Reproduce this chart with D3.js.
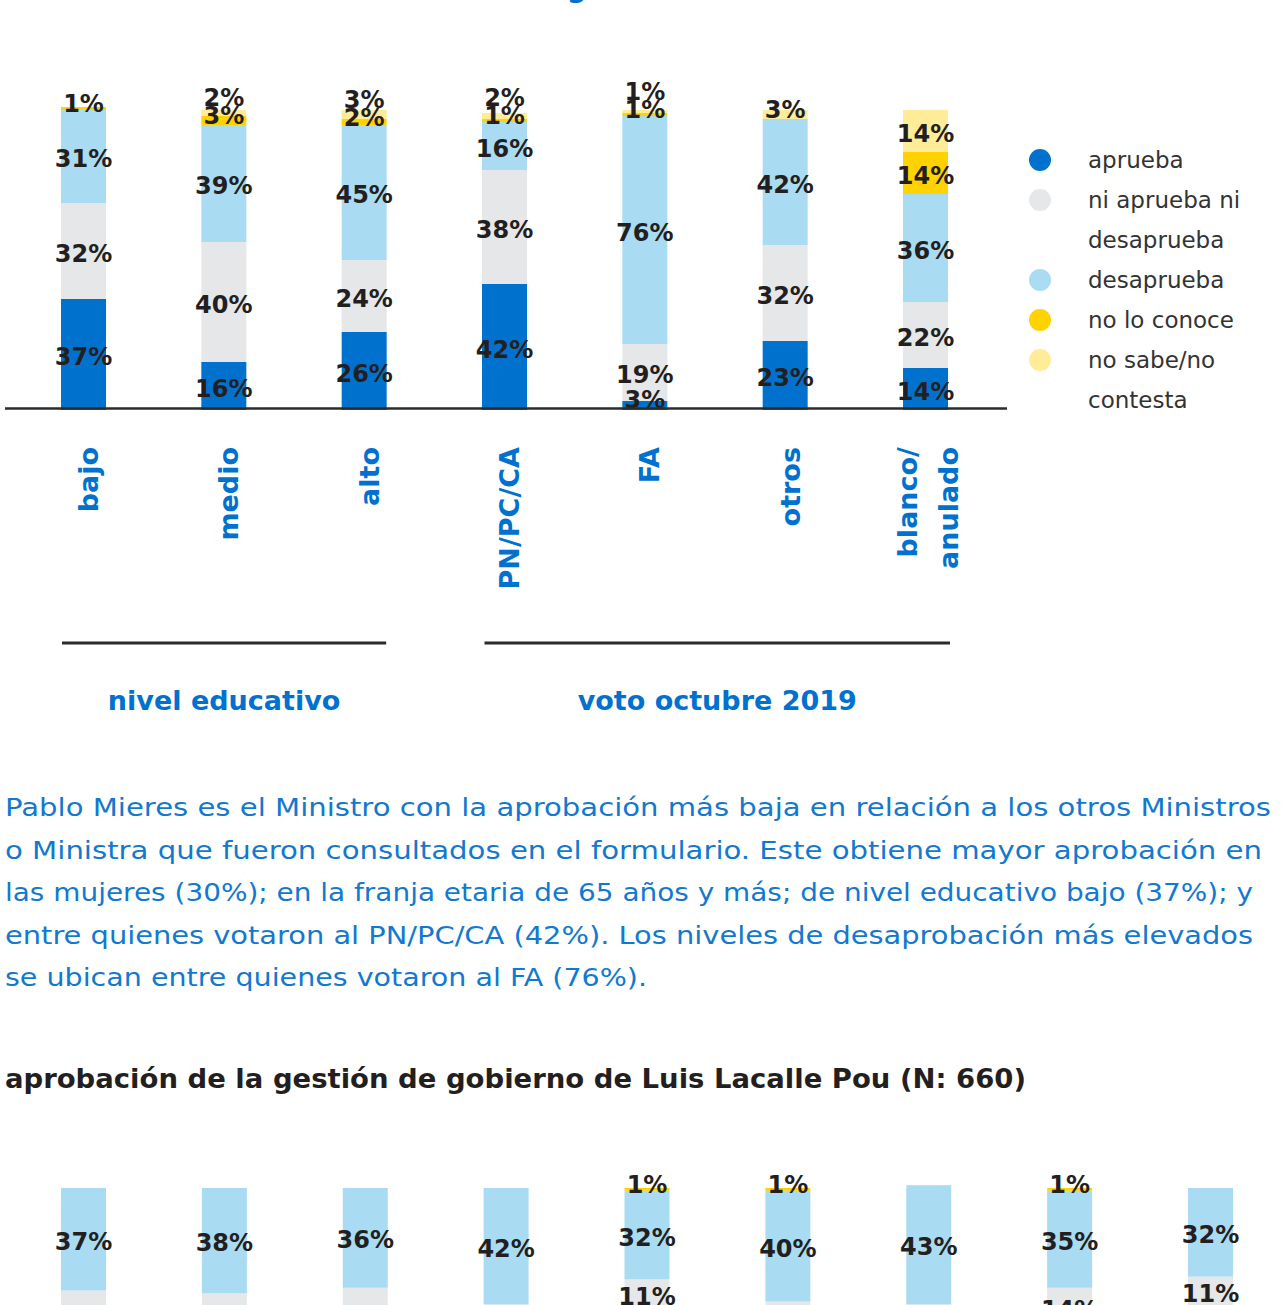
<!DOCTYPE html>
<html>
<head>
<meta charset="utf-8">
<script src="https://cdn.jsdelivr.net/npm/d3@7"></script>
<style>
  html, body { margin: 0; padding: 0; background: #fff; }
  svg { display: block; }
</style>
</head>
<body>
<svg id="chart" width="1284" height="1305"></svg>
<script>
// ---------- DATA (top chart: Pablo Mieres) ----------
const categories = ["bajo", "medio", "alto", "PN/PC/CA", "FA", "otros", "blanco/anulado"];
const categoryLabels = [["bajo"], ["medio"], ["alto"], ["PN/PC/CA"], ["FA"], ["otros"], ["blanco/", "anulado"]];
const aprueba     = [37, 16, 26, 42,  3, 23, 14];
const niNi        = [32, 40, 24, 38, 19, 32, 22];
const desaprueba  = [31, 39, 45, 16, 76, 42, 36];
const noConoce    = [ 1,  3,  2,  1,  1,  0, 14];
const noSabe      = [ 0,  2,  3,  2,  1,  3, 14];

const groups = [
  { name: "nivel educativo", from: "bajo", to: "alto" },
  { name: "voto octubre 2019", from: "PN/PC/CA", to: "blanco/anulado" }
];

const seriesKeys = ["aprueba", "ni", "desaprueba", "noConoce", "noSabe"];
const legendLabels = [["aprueba"], ["ni aprueba ni", "desaprueba"], ["desaprueba"], ["no lo conoce"], ["no sabe/no", "contesta"]];

// ---------- DATA (bottom chart: Luis Lacalle Pou) ----------
const categories2 = ["hombre", "mujer", "18 a 29", "30 a 44", "45 a 64", "65 y más", "bajo", "medio", "alto"];
const aprueba2    = [43, 44, 45, 42, 56, 44, 44, 50, 57];
const niNi2       = [20, 18, 19, 16, 11, 15, 14, 14, 11];
const desaprueba2 = [37, 38, 36, 42, 32, 40, 43, 35, 32];
const noConoce2   = [ 0,  0,  0,  0,  1,  1,  0,  1,  0];
const noSabe2     = [ 0,  0,  0,  0,  0,  0,  0,  0,  0];

const paragraphLines = [
  "Pablo Mieres es el Ministro con la aprobación más baja en relación a los otros Ministros",
  "o Ministra que fueron consultados en el formulario. Este obtiene mayor aprobación en",
  "las mujeres (30%); en la franja etaria de 65 años y más; de nivel educativo bajo (37%); y",
  "entre quienes votaron al PN/PC/CA (42%). Los niveles de desaprobación más elevados",
  "se ubican entre quienes votaron al FA (76%)."
];
const title2 = "aprobación de la gestión de gobierno de Luis Lacalle Pou (N: 660)";

// ---------- STYLE ----------
const colors = {
  aprueba: "#0072ce",
  ni: "#e6e7e8",
  desaprueba: "#a9dcf3",
  noConoce: "#ffd200",
  noSabe: "#ffec99"
};
const blue = "#0071ce";
const textBlue = "#1279cf";
const dark = "#231f20";
const labelFont = "'DejaVu Sans', sans-serif";

const svg = d3.select("#chart");
const color = d3.scaleOrdinal().domain(seriesKeys).range(seriesKeys.map(k => colors[k]));

// partially visible title above the chart
svg.append("text")
  .attr("x", 531).attr("y", -3)
  .attr("font-family", labelFont).attr("font-weight", "bold").attr("font-size", 28)
  .attr("fill", blue)
  .text("según");

function buildRows(cats, a, n, d, c, s) {
  return cats.map((cat, i) => ({ cat, aprueba: a[i], ni: n[i], desaprueba: d[i], noConoce: c[i], noSabe: s[i] }));
}

function drawStack(g, rows, xs, ys, barW) {
  const stacked = d3.stack().keys(seriesKeys)(rows);
  g.selectAll("g.layer")
    .data(stacked)
    .join("g")
    .attr("class", "layer")
    .attr("fill", d => color(d.key))
    .selectAll("rect")
    .data(d => d.filter(p => p[1] - p[0] > 0))
    .join("rect")
    .attr("x", d => xs(d.data.cat) - barW / 2)
    .attr("width", barW)
    .attr("y", d => ys(d[1]))
    .attr("height", d => ys(d[0]) - ys(d[1]));

  const labels = [];
  rows.forEach((row, i) => {
    let prev = null;
    stacked.forEach(layer => {
      const p = layer[i];
      const v = p[1] - p[0];
      if (v <= 0) return;
      const mid = (ys(p[0]) + ys(p[1])) / 2;
      let c = v < 5 ? mid - 5 : mid + 2;
      if (c > ys(0) - 11) c = ys(0) - 11;
      if (prev !== null && c > prev - 18) c = prev - 18;
      prev = c;
      labels.push({ cat: row.cat, v, c });
    });
  });
  g.selectAll("text.val")
    .data(labels)
    .join("text")
    .attr("class", "val")
    .attr("x", d => xs(d.cat))
    .attr("y", d => d.c + 8.5)
    .attr("text-anchor", "middle")
    .attr("font-family", labelFont)
    .attr("font-weight", "bold")
    .attr("font-size", 24)
    .attr("fill", dark)
    .text(d => d.v + "%");
}

// ---------- TOP CHART ----------
const xTop = d3.scalePoint().domain(categories).range([83.5, 925.5]);
const yTop = d3.scaleLinear().domain([0, 100]).range([410, 110]);
const barWidth = 45;

const topChart = svg.append("g");
drawStack(topChart, buildRows(categories, aprueba, niNi, desaprueba, noConoce, noSabe), xTop, yTop, barWidth);

svg.append("line")
  .attr("x1", 5).attr("x2", 1007)
  .attr("y1", 408.5).attr("y2", 408.5)
  .attr("stroke", "#2b2b2b").attr("stroke-width", 2.5);

const axis = svg.append("g")
  .attr("transform", "translate(0,447)")
  .call(d3.axisBottom(xTop).tickSize(0).tickFormat(""));
axis.select(".domain").remove();
axis.selectAll(".tick").each(function (d) {
  const lines = categoryLabels[categories.indexOf(d)];
  const t = d3.select(this).append("text")
    .attr("transform", "translate(14,0) rotate(-90)")
    .attr("text-anchor", "end")
    .attr("font-family", labelFont)
    .attr("font-weight", "bold")
    .attr("font-size", 27)
    .attr("fill", blue);
  if (lines.length === 1) {
    t.attr("x", 0).attr("y", 0).text(lines[0]);
  } else {
    t.selectAll("tspan").data(lines).join("tspan")
      .attr("x", 0)
      .attr("y", (l, j) => j === 0 ? -23.5 : 17.5)
      .text(l => l);
  }
});

groups.forEach((gr, i) => {
  const gx1 = xTop(gr.from) - (i === 0 ? 21.5 : 20);
  const gx2 = xTop(gr.to) + (i === 0 ? 22 : 24.5);
  svg.append("line")
    .attr("x1", gx1).attr("x2", gx2)
    .attr("y1", 643).attr("y2", 643)
    .attr("stroke", "#2b2b2b").attr("stroke-width", 3);
  svg.append("text")
    .attr("x", (gx1 + gx2) / 2).attr("y", 710)
    .attr("text-anchor", "middle")
    .attr("font-family", labelFont)
    .attr("font-weight", "bold")
    .attr("font-size", 27)
    .attr("fill", blue)
    .text(gr.name);
});

const legend = svg.append("g");
let ly = 160;
seriesKeys.forEach((k, i) => {
  legend.append("circle").attr("cx", 1040).attr("cy", ly).attr("r", 11).attr("fill", colors[k]);
  legendLabels[i].forEach(line => {
    legend.append("text")
      .attr("x", 1088).attr("y", ly + 8)
      .attr("font-family", labelFont)
      .attr("font-size", 23)
      .attr("fill", "#333")
      .text(line);
    ly += 40;
  });
});

const paraWidths = [1266, 1257, 1248, 1248, 642];
svg.append("g").selectAll("text")
  .data(paragraphLines)
  .join("text")
  .attr("x", 5)
  .attr("y", (d, i) => 816 + i * 42.5)
  .attr("font-family", labelFont)
  .attr("font-size", 25)
  .attr("fill", textBlue)
  .attr("textLength", (d, i) => paraWidths[i])
  .attr("lengthAdjust", "spacingAndGlyphs")
  .text(d => d);

svg.append("text")
  .attr("x", 5).attr("y", 1087.5)
  .attr("font-family", labelFont)
  .attr("font-weight", "bold")
  .attr("font-size", 26)
  .attr("fill", dark)
  .attr("textLength", 1021)
  .attr("lengthAdjust", "spacingAndGlyphs")
  .text(title2);

// ---------- BOTTOM CHART ----------
const xBottom = d3.scalePoint().domain(categories2).range([83.5, 1210.5]);
const yBottom = d3.scaleLinear().domain([0, 100]).range([1465, 1188]);
const bottomChart = svg.append("g");
drawStack(bottomChart, buildRows(categories2, aprueba2, niNi2, desaprueba2, noConoce2, noSabe2), xBottom, yBottom, barWidth);
</script>
</body>
</html>
